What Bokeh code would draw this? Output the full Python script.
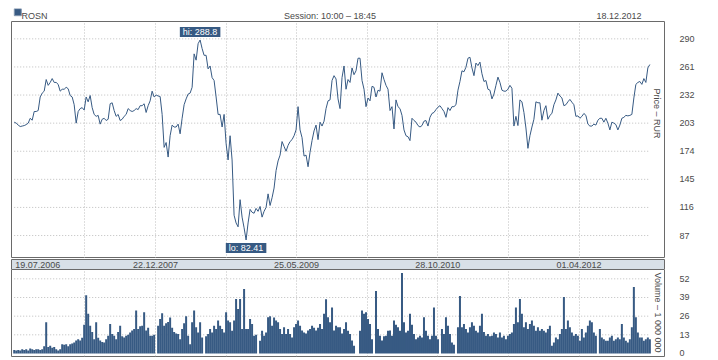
import numpy as np
import pandas as pd
from bokeh.plotting import figure
from bokeh.layouts import column
from bokeh.models import Range1d, FixedTicker, Label, ColumnDataSource
from bokeh.core.properties import value
from bokeh.embed import file_html
from bokeh.resources import INLINE

ticker_name = "ROSN"
session_text = "Session: 10:00 \u2013 18:45"
last_date_text = "18.12.2012"
start_date = "2006-07-19"
end_date = "2012-12-18"
price_ticks = [87, 116, 145, 174, 203, 232, 261, 290]
volume_ticks = [0, 13, 26, 39, 52]
date_labels = ["19.07.2006", "22.12.2007", "25.05.2009", "28.10.2010", "01.04.2012"]
grid_dates = ["2007-04-05", "2007-12-22", "2008-09-07", "2009-05-25",
              "2010-02-09", "2010-10-28", "2011-07-15", "2012-04-01"]

prices = [
    204, 203, 201, 199.5, 200, 200.5, 201.5, 203, 208, 206,
    215, 215, 216, 230, 234, 236, 248, 242, 245, 249,
    245, 245, 243, 236, 238, 238, 240, 238.5, 231.5, 230,
    222, 203, 215, 218, 219, 216.5, 230, 225, 231.5, 219,
    212, 210, 211, 202, 207, 208, 205.7, 207, 223, 224,
    216, 210, 212, 205.7, 207, 210, 212, 218, 216, 215,
    216, 218, 217, 221, 221, 223, 214, 221, 226, 236,
    230, 232, 231, 230.5, 212, 178, 183, 168, 190, 201,
    199,
    199, 202, 192, 208, 222, 228, 233, 234, 240, 274.5,
    268, 285, 288.8, 280, 273, 273, 259, 262, 250, 247,
    230, 212, 212, 199, 212, 182, 165, 190, 165, 108,
    100, 96, 124, 106, 95, 82.41, 100, 114, 111, 110,
    115, 112, 117, 106, 112, 116, 130, 118, 126, 136,
    154, 164, 170, 184, 179, 174, 180, 184, 186, 190,
    196, 220, 196, 188, 169, 170, 158, 173, 185, 195,
    201, 186, 204, 200, 205, 218, 226, 227, 247, 252,
    248.6,
    228, 218, 250, 262, 238, 248, 245, 260, 253, 257,
    270, 270, 247, 238, 220, 229, 226, 241, 240, 230,
    237, 236, 255, 248, 242, 238, 216, 220, 197, 227,
    220, 218, 211, 196, 190, 189, 185, 208, 205.7, 204,
    200.5, 199, 200.5, 205, 205.7, 200, 209, 213, 214, 217,
    219.5, 221, 218, 215, 209, 219, 216, 220, 220, 222,
    237, 246, 257, 256, 260.7, 270, 271, 260, 252, 265,
    262.4, 266, 254, 246, 247, 238, 237, 228, 233, 242,
    250.5, 245,
    237, 236, 236, 238, 242, 239, 200, 210, 200.5, 227,
    225, 214, 198, 177, 190, 199, 207, 225, 224, 224,
    206, 216, 221, 207, 211, 213, 222, 227, 234, 231,
    229, 221, 222, 225, 227.5, 224.6, 222, 210, 210.5, 208,
    210, 213, 211, 202, 200, 200, 202, 201, 206, 208,
    208, 204, 208, 203, 196, 204, 203, 201.5, 196, 201,
    208, 209, 211, 210.5, 211, 212, 229, 243, 245, 246,
    243, 249, 245, 260, 263.5,
]

volumes = [
    2.5, 2, 2.5, 2, 3, 2.5, 3, 2, 3.5, 3,
    2.5, 3, 3, 2.5, 3, 5, 21.8, 4.5, 5.4, 4,
    4.5, 3, 2, 3, 6.5, 6, 6.5, 5, 6.5, 7,
    7.7, 9, 10, 9, 11, 20, 40.5, 27.6, 19.4, 15,
    10, 21.8, 11, 9, 8, 7.7, 10, 12.4, 20.6, 13.6,
    12.4, 10, 15, 19.4, 12, 11.2, 12.4, 13, 14.7, 16,
    17, 30, 17, 19, 19.4, 28.8, 16, 18, 12.4, 12.4,
    13, 0, 19.4, 24, 28, 19.4, 21, 22, 25, 18,
    15,
    14, 13.6, 10, 17, 21, 26, 12.4, 6.5, 21.8, 30,
    18.2, 14.7, 21.8, 11.2, 0, 12, 13.6, 17, 14.7, 19.4,
    17, 23, 19.4, 17, 14.7, 28.8, 22.9, 21.8, 15.9, 22.9,
    38, 31, 38, 17.1, 45, 17, 17.1, 24, 20.6, 12.4,
    13, 0, 8.9, 15.9, 12.4, 14.7, 25.3, 26, 19.4, 25,
    22.9, 21.8, 17, 13.6, 18.2, 13.6, 17, 13.6, 11.2, 18.2,
    20.6, 22.9, 19.4, 16, 14.7, 14, 16, 17, 19.4, 18,
    16, 18, 20.6, 17, 27.6, 37.7, 25.3, 21.8, 32, 16,
    19.4,
    18.2, 18.2, 14, 17, 21.8, 15.9, 13.6, 9, 5.4, 0,
    0, 15.9, 30, 27.6, 28.8, 24, 20.6, 10, 0, 43.5,
    17, 12.4, 9, 12, 12.4, 15.9, 16, 12.4, 22.9, 20,
    18.2, 15.9, 56, 21.8, 14.7, 15.9, 27.6, 20, 13.6, 10,
    11.2, 12.4, 11.2, 25.3, 15.9, 12.4, 10, 12.4, 32, 12.4,
    10, 0, 17, 13.6, 25.3, 19.4, 13.6, 7.7, 6, 0,
    18.2, 40, 18.2, 20.6, 17, 14.7, 18.2, 21.8, 19.4, 15.9,
    14.7, 19.4, 27.6, 15, 12.4, 13.6, 12, 12.4, 14.7, 13.6,
    11.2, 14.7,
    11.2, 12.4, 10, 12.4, 13.6, 14.7, 20.6, 32, 21.8, 38,
    27.6, 18.2, 21.8, 17.1, 20.6, 22.9, 19.4, 15.9, 18.2, 15.9,
    17.1, 15.9, 14.7, 17, 19.4, 5.4, 7.7, 11.2, 10, 13.6,
    17.1, 39.3, 17, 22.9, 18.2, 14.7, 12.4, 13.6, 12.4, 8.9,
    17, 11.2, 14.7, 19.4, 22.9, 21.8, 14.7, 12.4, 0, 17,
    11.2, 10, 8.9, 8.9, 11.2, 12.4, 8.9, 10, 11.2, 10,
    20.6, 11.2, 8.9, 7.7, 10, 18.2, 46.3, 25.3, 14.7, 11.2,
    11.2, 8.9, 10, 11.2, 10,
]

BLUE = "#375a83"
FONT = value("Liberation Sans")
FSIZE = "9px"
TXT = "#4a4a4a"
GRID = "#bdbdbd"
FRAME = "#6a6a6a"
FW = 653
MBL, MBR = 11, 40

dates = pd.date_range(start_date, end_date, periods=len(prices))
step_ms = (dates[1] - dates[0]).total_seconds() * 1000.0
grid_ms = [pd.Timestamp(d).value / 1e6 for d in grid_dates]
xr = Range1d(pd.Timestamp("2006-07-09"), pd.Timestamp("2013-02-10"))

common = dict(toolbar_location=None, output_backend="svg", frame_width=FW,
              min_border_left=MBL, min_border_right=MBR)

# ---------- header ----------
hdr = figure(frame_height=12, x_range=Range1d(0, FW), y_range=Range1d(0, 12),
             x_axis_location=None, y_axis_location=None, min_border_top=8,
             min_border_bottom=0, outline_line_color=None, **common)
hdr.grid.visible = False
hdr.scatter([6.3], [8.3], marker="square", size=7, fill_color=BLUE, line_color="#8397ae")
hdr.text([10], [5], text=[ticker_name], text_font=FONT, text_font_size=FSIZE,
         text_color=TXT, text_align="left", text_baseline="alphabetic")
hdr.text([318.5], [5], text=[session_text], text_font=FONT, text_font_size=FSIZE,
         text_color=TXT, text_align="center", text_baseline="alphabetic")
hdr.text([630], [5], text=[last_date_text], text_font=FONT, text_font_size=FSIZE,
         text_color=TXT, text_align="right", text_baseline="alphabetic")

# ---------- price ----------
pp = figure(frame_height=237, x_range=xr, y_range=Range1d(63.3, 307.9),
            x_axis_type="datetime", x_axis_location=None, y_axis_location="right",
            min_border_top=1, min_border_bottom=0, outline_line_color=FRAME, **common)
pp.xgrid.ticker = FixedTicker(ticks=grid_ms)
pp.xgrid.grid_line_color = GRID
pp.xgrid.grid_line_dash = "1 2"
pp.ygrid.visible = False
hsrc = ColumnDataSource(dict(x0=[dates[0]] * len(price_ticks), x1=[dates[-1]] * len(price_ticks),
                             y=price_ticks))
pp.segment(x0="x0", x1="x1", y0="y", y1="y", source=hsrc, line_color=GRID, line_dash="1 2")
pp.line(dates, prices, line_color=BLUE, line_width=1)

ax = pp.yaxis[0]
ax.ticker = FixedTicker(ticks=price_ticks)
ax.major_tick_line_color = None
ax.minor_tick_line_color = None
ax.axis_line_color = None
ax.major_label_standoff = 9
ax.major_label_text_font = "Liberation Sans"
ax.major_label_text_font_size = FSIZE
ax.major_label_text_color = TXT

imax = int(np.argmax(prices))
imin = int(np.argmin(prices))
pp.add_layout(Label(x=dates[imax].value / 1e6, y=prices[imax], text=f"hi: {prices[imax]:.1f}",
                    text_align="center", text_baseline="bottom", y_offset=3,
                    text_color="white", text_font="Liberation Sans", text_font_size=FSIZE,
                    background_fill_color=BLUE, padding=(3, 0)))
pp.add_layout(Label(x=dates[imin].value / 1e6, y=prices[imin], text=f"lo: {prices[imin]:.2f}",
                    text_align="center", text_baseline="top", y_offset=-3,
                    text_color="white", text_font="Liberation Sans", text_font_size=FSIZE,
                    background_fill_color=BLUE, padding=(3, 0)))
pp.add_layout(Label(x=645, y=170, x_units="screen", y_units="screen",
                    text="Price \u2013 RUR", angle=-np.pi / 2, text_align="left",
                    text_baseline="middle", text_color=TXT, text_font="Liberation Sans",
                    text_font_size=FSIZE))

# ---------- date band ----------
bd = figure(frame_height=11, x_range=xr, y_range=Range1d(0, 1), x_axis_type="datetime",
            x_axis_location=None, y_axis_location=None, min_border_top=0, min_border_bottom=0,
            background_fill_color="#d8e0e7", outline_line_color=FRAME, **common)
bd.grid.visible = False
label_dates = [pd.to_datetime(s, format="%d.%m.%Y") for s in date_labels]
for i, (d, s) in enumerate(zip(label_dates, date_labels)):
    bd.add_layout(Label(x=pd.Timestamp(d).value / 1e6, y=5.5, y_units="screen", text=s,
                        text_align="left" if i == 0 else "center", text_baseline="middle",
                        x_offset=1 if i == 0 else 0, text_color=TXT,
                        text_font="Liberation Sans", text_font_size=FSIZE))

# ---------- volume ----------
vp = figure(frame_height=87, x_range=xr, y_range=Range1d(-2.1, 58.5),
            x_axis_type="datetime", x_axis_location=None, y_axis_location="right",
            min_border_top=0, min_border_bottom=1, outline_line_color=FRAME, **common)
vp.xgrid.ticker = FixedTicker(ticks=grid_ms)
vp.xgrid.grid_line_color = GRID
vp.xgrid.grid_line_dash = "1 2"
vp.ygrid.visible = False
vsrc = ColumnDataSource(dict(x0=[dates[0]] * (len(volume_ticks) - 1),
                             x1=[dates[-1]] * (len(volume_ticks) - 1), y=volume_ticks[1:]))
vp.segment(x0="x0", x1="x1", y0="y", y1="y", source=vsrc, line_color=GRID, line_dash="1 2")
vp.vbar(x=dates, top=volumes, bottom=0, width=step_ms, fill_color=BLUE, line_color=None)
vax = vp.yaxis[0]
vax.ticker = FixedTicker(ticks=volume_ticks)
vax.major_tick_line_color = None
vax.minor_tick_line_color = None
vax.axis_line_color = None
vax.major_label_standoff = 9
vax.major_label_text_font = "Liberation Sans"
vax.major_label_text_font_size = FSIZE
vax.major_label_text_color = TXT
vp.add_layout(Label(x=646, y=84, x_units="screen", y_units="screen",
                    text="Volume \u2013 1 000 000", angle=-np.pi / 2, text_align="left",
                    text_baseline="middle", text_color=TXT, text_font="Liberation Sans",
                    text_font_size=FSIZE))

layout = column(hdr, pp, bd, vp, spacing=0)
open("out.html", "w").write(file_html(layout, INLINE))
